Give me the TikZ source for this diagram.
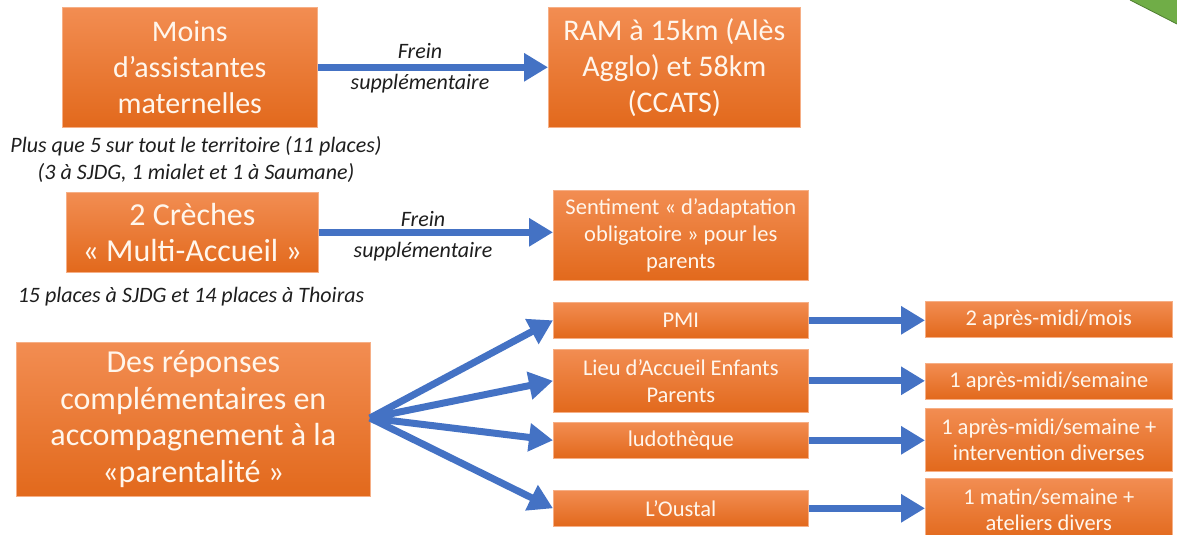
\documentclass[tikz,border=0pt]{standalone}
\usepackage{fontspec}
\setmainfont{Carlito}
\usetikzlibrary{arrows.meta}
\definecolor{orL}{HTML}{F28D52}
\definecolor{orD}{HTML}{E2691C}
\definecolor{arrB}{HTML}{4472C4}
\definecolor{grn}{HTML}{70AD47}
\definecolor{grnD}{HTML}{507E32}
\definecolor{txtW}{HTML}{FFF6EC}
\definecolor{txtK}{HTML}{1E1E1E}
\tikzset{
  obox/.style={rectangle, anchor=north west, inner sep=0pt, align=center,
    top color=orL, bottom color=orD, draw=orL!70!white, line width=0.6pt,
    text=txtW},
  big/.style={font=\fontsize{30}{36}\selectfont},
  bigger/.style={font=\fontsize{32}{36.5}\selectfont},
  mid/.style={font=\fontsize{22.5}{27}\selectfont},
  rmid/.style={font=\fontsize{22.5}{26}\selectfont},
  arr/.style={draw=arrB, line width=7pt,
    -{Triangle[length=24pt,width=27pt]}},
  lbl/.style={font=\fontsize{22}{31}\selectfont\itshape, align=center, inner sep=0pt, text=txtK},
  captxt/.style={font=\fontsize{22}{27}\selectfont\itshape, align=center, inner sep=0pt, text=txtK}
}
\begin{document}
\begin{tikzpicture}[x=1pt,y=-1pt]
\useasboundingbox (0,0) rectangle (1177,535);
% green corner shape
\fill[grn] (1130,0) -- (1177,0) -- (1177,24) -- cycle;
\draw[grnD, line width=0.8pt] (1130,0) -- (1177,24);

% boxes
\node[obox, big, minimum width=255, minimum height=120] (moins) at (62,7)
  {Moins\\d’assistantes\\maternelles};
\node[obox, big, minimum width=252, minimum height=120] (ram) at (548,7)
  {RAM à 15km (Alès\\Agglo) et 58km\\(CCATS)};
\node[obox, bigger, minimum width=252, minimum height=80] (creche) at (66,192)
  {2 Crèches\\« Multi-Accueil »};
\node[obox, mid, minimum width=255, minimum height=90] (sent) at (553,190)
  {Sentiment « d’adaptation\\obligatoire » pour les\\parents};
\node[obox, bigger, minimum width=354, minimum height=154] (des) at (16,342)
  {Des réponses\\complémentaires en\\accompagnement à la\\«parentalité »};

\node[obox, mid, minimum width=255, minimum height=36] (pmi) at (553,302) {PMI};
\node[obox, mid, minimum width=255, minimum height=63] (lieu) at (553,349)
  {Lieu d’Accueil Enfants\\Parents};
\node[obox, mid, minimum width=255, minimum height=36] (ludo) at (553,422) {ludothèque};
\node[obox, mid, minimum width=255, minimum height=36] (oustal) at (553,490) {L’Oustal};

\node[obox, rmid, minimum width=247, minimum height=36] (r1) at (925,301) {2 après-midi/mois};
\node[obox, rmid, minimum width=247, minimum height=36] (r2) at (925,363) {1 après-midi/semaine};
\node[obox, rmid, minimum width=247, minimum height=63] (r3) at (925,408)
  {1 après-midi/semaine +\\intervention diverses};
\node[obox, rmid, minimum width=247, minimum height=62] (r4) at (925,478)
  {1 matin/semaine +\\ateliers divers};

% captions
\node[captxt] (c1) at (196,159) {Plus que 5 sur tout le territoire (11 places)\\(3 à SJDG, 1 mialet et 1 à Saumane)};
\node[captxt] (c2) at (191,297) {15 places à SJDG et 14 places à Thoiras};

% arrows
\draw[arr] (moins.east) -- (moins.east -| ram.west);
\draw[arr] (creche.east) -- (creche.east -| sent.west);
\node[lbl] (f1) at (420,68) {Frein\\supplémentaire};
\node[lbl] (f2) at (423,236) {Frein\\supplémentaire};

\coordinate (o) at (370,418);
\draw[arr] (o) -- (pmi.west);
\draw[arr] (o) -- (lieu.west);
\draw[arr] (o) -- (ludo.west);
\draw[arr] (o) -- (oustal.west);

\draw[arr] (pmi.east) -- (pmi.east -| r1.west);
\draw[arr] (lieu.east) -- (lieu.east -| r2.west);
\draw[arr] (ludo.east) -- (ludo.east -| r3.west);
\draw[arr] (oustal.east) -- (oustal.east -| r4.west);
\end{tikzpicture}
\end{document}
